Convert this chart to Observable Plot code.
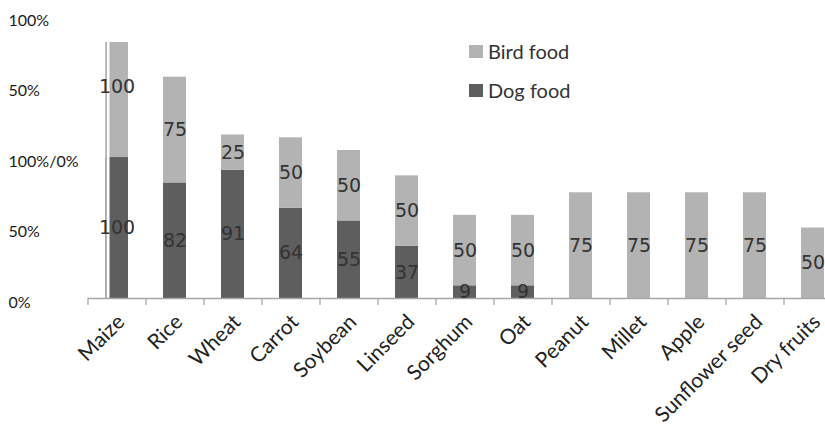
<!DOCTYPE html>
<html>
<head>
<meta charset="utf-8">
<script src="https://cdn.jsdelivr.net/npm/d3@7"></script>
<script src="https://cdn.jsdelivr.net/npm/@observablehq/plot@0.6"></script>
<style>
  html, body { margin: 0; padding: 0; background: #fff; }
  #chart { position: relative; width: 825px; height: 431px; }
  #legend { position: absolute; left: 469px; top: 40px; font-family: Lato, sans-serif; font-size: 20px; color: #333; }
  #legend .item { display: flex; align-items: center; height: 22px; margin-bottom: 17px; }
  #legend .sw { width: 14px; height: 13px; margin-right: 5px; }
</style>
</head>
<body>
<div id="chart"></div>
<script>
// Share of each ingredient used in dog food and bird food
const categories = ["Maize", "Rice", "Wheat", "Carrot", "Soybean", "Linseed", "Sorghum", "Oat", "Peanut", "Millet", "Apple", "Sunflower seed", "Dry fruits"];
const dogFood  = [100, 82, 91, 64, 55, 37, 9, 9, 0, 0, 0, 0, 0];
const birdFood = [100, 75, 25, 50, 50, 50, 50, 50, 75, 75, 75, 75, 50];

// Two stacked 0–100% scales: dog food below, bird food above
const tickValues = [0, 50, 100, 150, 200];
const tickLabels = ["0%", "50%", "100%/0%", "50%", "100%"];

const seriesNames = ["Bird food", "Dog food"];
const seriesColors = ["#b3b3b3", "#5e5e5e"];

const rows = [];
categories.forEach((c, i) => {
  if (dogFood[i] > 0) rows.push({category: c, series: "Dog food", value: dogFood[i], y1: 0, y2: dogFood[i]});
  rows.push({category: c, series: "Bird food", value: birdFood[i], y1: dogFood[i], y2: dogFood[i] + birdFood[i]});
});

const xRange = [88, 842];
const step = (xRange[1] - xRange[0]) / categories.length;

const plot = Plot.plot({
  width: 825,
  height: 431,
  marginTop: 42,
  marginBottom: 133,
  marginLeft: 88,
  marginRight: 0,
  style: {background: "transparent"},
  x: {type: "band", domain: categories, range: xRange, paddingInner: 0.6, paddingOuter: 0.3, axis: null},
  y: {domain: [0, 181.6], axis: null},
  color: {domain: seriesNames, range: seriesColors},
  marks: [
    Plot.barY(rows, {x: "category", y1: "y1", y2: "y2", fill: "series", clip: true}),
    // vertical axis line beside the first bar
    Plot.ruleX([categories[0]], {x: d => d, stroke: "#fff", strokeWidth: 4, dx: -9.5}),
    Plot.ruleX([categories[0]], {x: d => d, stroke: "#a6a6a6", strokeWidth: 1.3, dx: -10.8}),
    // baseline and category separators
    Plot.ruleY([0], {stroke: "#a6a6a6", strokeWidth: 1.3}),
    Plot.ruleX(categories, {x: d => d, y1: 0, y2: 0, insetBottom: -7, stroke: "#a6a6a6", strokeWidth: 1.3, dx: -step / 2}),
    // value labels centred in each segment
    Plot.text(rows, {x: "category", y: d => (d.y1 + d.y2) / 2, text: d => String(d.value), fontFamily: "DejaVu Sans", fontSize: 19, fill: "#333"}),
    // y tick labels
    Plot.text(tickValues, {y: d => d, text: (d, i) => tickLabels[i], frameAnchor: "left", dx: -80, dy: 4, textAnchor: "start", fontFamily: "Lato", fontSize: 16, fill: "#1a1a1a"}),
    // rotated category labels
    Plot.text(categories, {x: d => d, text: d => d, frameAnchor: "bottom", rotate: -45, textAnchor: "end", lineAnchor: "middle", dx: 4, dy: 20, fontFamily: "Lato", fontSize: 21, fill: "#222"})
  ]
});

const chart = document.getElementById("chart");
chart.appendChild(plot);

const legend = document.createElement("div");
legend.id = "legend";
seriesNames.forEach((name, i) => {
  const item = document.createElement("div");
  item.className = "item";
  const sw = document.createElement("span");
  sw.className = "sw";
  sw.style.background = seriesColors[i];
  const label = document.createElement("span");
  label.textContent = name;
  item.appendChild(sw);
  item.appendChild(label);
  legend.appendChild(item);
});
chart.appendChild(legend);
</script>
</body>
</html>
